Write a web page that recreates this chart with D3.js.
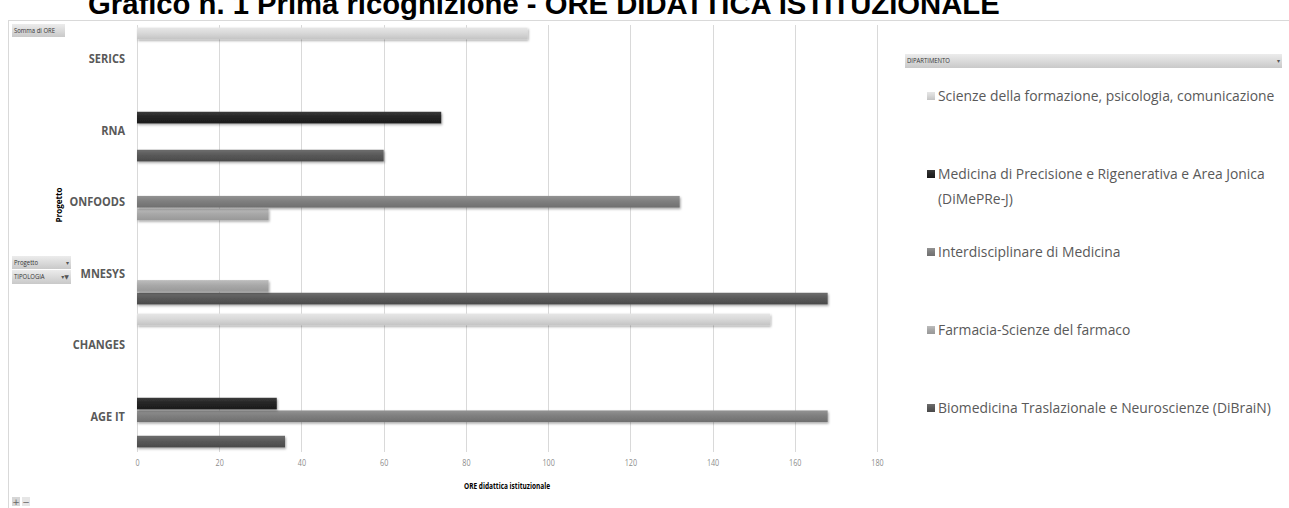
<!DOCTYPE html>
<html><head><meta charset="utf-8">
<script src="https://cdn.jsdelivr.net/npm/d3@7"></script>
<style>
html,body{margin:0;padding:0;background:#fff;}
svg{display:block;}
</style></head>
<body>
<script>
const categories = ["AGE IT","CHANGES","MNESYS","ONFOODS","RNA","SERICS"];
const seriesNames = [
  "Biomedicina Traslazionale e Neuroscienze (DiBraiN)",
  "Farmacia-Scienze del farmaco",
  "Interdisciplinare di Medicina",
  "Medicina di Precisione e Rigenerativa e Area Jonica (DiMePRe-J)",
  "Scienze della formazione, psicologia, comunicazione"
];
// values per series, aligned with categories (null = no bar)
const biomedicina      = [36, null, 168, null, 60, null];
const farmacia         = [null, null, 32, 32, null, null];
const interdisciplinare= [168, null, null, 132, null, null];
const medicina         = [34, null, null, null, 74, null];
const scienze          = [null, 154, null, null, null, 95];
const seriesValues = [biomedicina, farmacia, interdisciplinare, medicina, scienze];
const xTicks = [0,20,40,60,80,100,120,140,160,180];
const legendLines = [
  ["Scienze della formazione, psicologia, comunicazione"],
  ["Medicina di Precisione e Rigenerativa e Area Jonica","(DiMePRe-J)"],
  ["Interdisciplinare di Medicina"],
  ["Farmacia-Scienze del farmaco"],
  ["Biomedicina Traslazionale e Neuroscienze (DiBraiN)"]
];
const legendSeriesIdx = [4,3,2,1,0];

const W = 1289, H = 508;
const font = "'Open Sans','Noto Sans',sans-serif";
const colors = [
  {top:"#6e6e6e", mid:"#595959", bot:"#4a4a4a"},
  {top:"#bdbdbd", mid:"#a8a8a8", bot:"#989898"},
  {top:"#939393", mid:"#7f7f7f", bot:"#6f6f6f"},
  {top:"#3a3a3a", mid:"#262626", bot:"#1a1a1a"},
  {top:"#e6e6e6", mid:"#d9d9d9", bot:"#c4c4c4"}
];

const svg = d3.select("body").append("svg").attr("width",W).attr("height",H);
const defs = svg.append("defs");
colors.forEach((c,i)=>{
  const g = defs.append("linearGradient").attr("id","g"+i).attr("x1",0).attr("y1",0).attr("x2",0).attr("y2",1);
  g.append("stop").attr("offset","0%").attr("stop-color",c.top);
  g.append("stop").attr("offset","45%").attr("stop-color",c.mid);
  g.append("stop").attr("offset","100%").attr("stop-color",c.bot);
});
const bg = defs.append("linearGradient").attr("id","btn").attr("x1",0).attr("y1",0).attr("x2",0).attr("y2",1);
bg.append("stop").attr("offset","0%").attr("stop-color","#ececec");
bg.append("stop").attr("offset","100%").attr("stop-color","#c9c9c9");
const flt = defs.append("filter").attr("id","sh").attr("x","-5%").attr("y","-30%").attr("width","110%").attr("height","180%");
flt.append("feDropShadow").attr("dx",1).attr("dy",1.5).attr("stdDeviation",0.8).attr("flood-color","#000").attr("flood-opacity",0.35);

// squeeze a text horizontally (Calibri-like condensed look)
function squeeze(sel, factor){
  sel.each(function(){
    const w = this.getComputedTextLength();
    d3.select(this).attr("textLength", w*factor).attr("lengthAdjust","spacingAndGlyphs");
  });
  return sel;
}

svg.append("rect").attr("width",W).attr("height",H).attr("fill","#fff");

// title (clipped at top, as in the source screenshot)
const title = svg.append("text").attr("x",88).attr("y",14)
  .attr("font-family","'Liberation Sans',Arial,sans-serif").attr("font-weight","bold")
  .attr("font-size",22).attr("fill","#000")
  .text("Grafico n. 1 Prima ricognizione - ORE DIDATTICA ISTITUZIONALE");
const tl = title.node().getComputedTextLength();
title.attr("font-size", 22*912/tl);

// outer frame
svg.append("line").attr("x1",8).attr("x2",W).attr("y1",20.5).attr("y2",20.5).attr("stroke","#d9d9d9");
svg.append("line").attr("x1",8.5).attr("x2",8.5).attr("y1",20).attr("y2",H).attr("stroke","#d9d9d9");

const x = d3.scaleLinear().domain([0,180]).range([137,877]);
const y = d3.scaleBand().domain(categories.slice().reverse()).range([23,452]).paddingInner(0.1).paddingOuter(0.05);
const ys = d3.scaleBand().domain(d3.range(5).reverse()).range([0,y.bandwidth()]).padding(0.08);

// gridlines
svg.append("g").selectAll("line").data(xTicks).join("line")
  .attr("x1",d=>Math.round(x(d))+0.5).attr("x2",d=>Math.round(x(d))+0.5)
  .attr("y1",25).attr("y2",452).attr("stroke","#d9d9d9");

// axis tick labels
const xa = svg.append("g").attr("transform","translate(0,452)")
  .call(d3.axisBottom(x).tickValues(xTicks).tickSize(0).tickPadding(8));
xa.select(".domain").remove();
xa.selectAll("text").attr("font-family",font).attr("font-size",9).attr("fill","#8c8c8c");
squeeze(xa.selectAll("text"),0.8);

// bars
const barG = svg.append("g");
seriesValues.forEach((vals,si)=>{
  barG.append("g").selectAll("rect")
    .data(vals.map((v,ci)=>({v,c:categories[ci]})).filter(d=>d.v!=null))
    .join("rect")
    .attr("x",x(0)).attr("y",d=>y(d.c)+ys(si))
    .attr("width",d=>x(d.v)-x(0)).attr("height",ys.bandwidth())
    .attr("fill","url(#g"+si+")").attr("filter","url(#sh)");
});

// category labels
const cl = svg.append("g").selectAll("text").data(categories).join("text")
  .attr("x",125).attr("y",d=>y(d)+y.bandwidth()/2).attr("dy","0.35em")
  .attr("text-anchor","end").attr("font-family",font).attr("font-weight","bold")
  .attr("font-size",12.5).attr("fill","#595959").text(d=>d);
squeeze(cl,0.88);

// axis titles
const xt = svg.append("text").attr("x",507).attr("y",489).attr("text-anchor","middle")
  .attr("font-family",font).attr("font-weight","bold").attr("font-size",9.5).attr("fill","#000")
  .text("ORE didattica istituzionale");
xt.attr("textLength",86).attr("lengthAdjust","spacingAndGlyphs");
const yt = svg.append("text").attr("transform","translate(62,205) rotate(-90)").attr("text-anchor","middle")
  .attr("font-family",font).attr("font-weight","bold").attr("font-size",9.5).attr("fill","#000")
  .text("Progetto");
yt.attr("textLength",35).attr("lengthAdjust","spacingAndGlyphs");

// pivot buttons
function button(x0,y0,w,h,label,icon){
  svg.append("rect").attr("x",x0).attr("y",y0).attr("width",w).attr("height",h).attr("fill","url(#btn)");
  const t = svg.append("text").attr("x",x0+2).attr("y",y0+h/2).attr("dy","0.35em")
    .attr("font-family",font).attr("font-size",7).attr("fill","#333").text(label);
  squeeze(t,0.85);
  if(icon) svg.append("text").attr("x",x0+w-2).attr("y",y0+h/2).attr("dy","0.35em").attr("text-anchor","end")
    .attr("font-family","'DejaVu Sans',sans-serif").attr("font-size",6).attr("fill","#555").text(icon);
}
button(12,24,53,13,"Somma di ORE",null);
button(12,256,59,13,"Progetto","▾");
button(12,270,59,14,"TIPOLOGIA","▾▼");
button(905,54,377,14,"DIPARTIMENTO","▾");
// zoom buttons
svg.append("rect").attr("x",12).attr("y",497).attr("width",8).attr("height",9).attr("fill","#d6d6d6");
svg.append("rect").attr("x",22).attr("y",497).attr("width",8).attr("height",9).attr("fill","#e6e6e6");
svg.append("text").attr("x",16).attr("y",504.5).attr("text-anchor","middle").attr("font-size",9)
  .attr("font-family","'DejaVu Sans',sans-serif").attr("fill","#666").text("+");
svg.append("text").attr("x",26).attr("y",504.5).attr("text-anchor","middle").attr("font-size",9)
  .attr("font-family","'DejaVu Sans',sans-serif").attr("fill","#666").text("−");

// legend: font size fitted so the longest line spans the same width as in the source
const legY = d3.scalePoint().domain(d3.range(5)).range([96,408]);
const lg = svg.append("g");
const legTexts = [];
legendLines.forEach((lines,i)=>{
  const si = legendSeriesIdx[i];
  const cy = legY(i);
  lg.append("rect").attr("x",927).attr("y",cy-4).attr("width",8).attr("height",8).attr("fill","url(#g"+si+")");
  lines.forEach((t,li)=>{
    legTexts.push(lg.append("text").attr("x",938).attr("y",cy+li*25).attr("dy","0.35em")
      .attr("font-family",font).attr("font-size",15).attr("fill","#595959").text(t));
  });
});
const legSize = 15*337/legTexts[0].node().getComputedTextLength();
legTexts.forEach(t=>t.attr("font-size",legSize));
</script>
</body></html>
